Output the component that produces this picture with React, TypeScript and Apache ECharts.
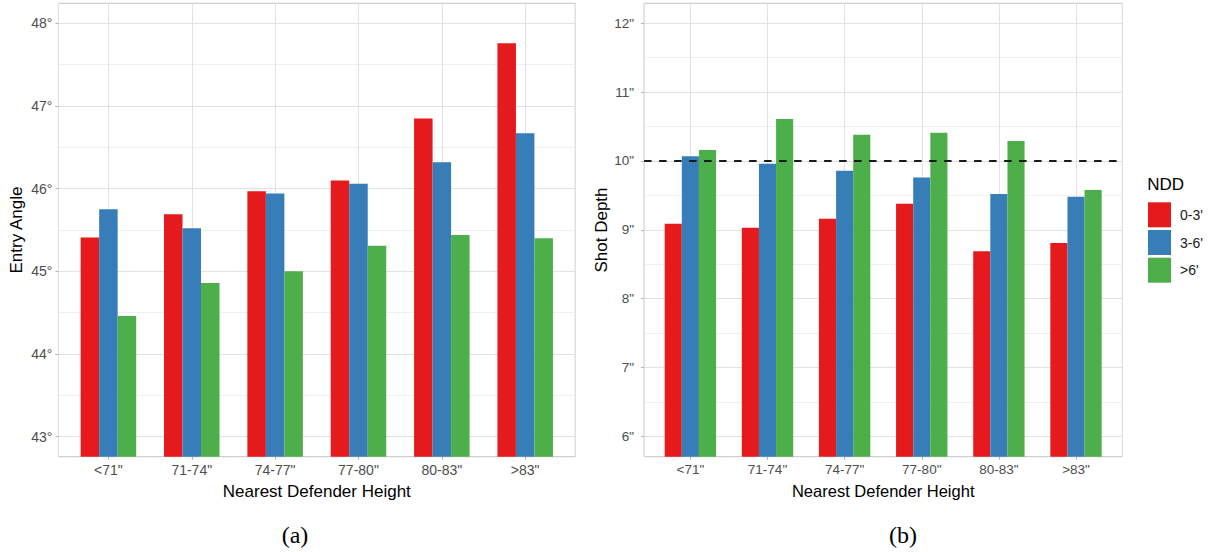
import React, { useEffect, useRef } from "react";
import * as echarts from "echarts";

const categories = ['<71"', '71-74"', '74-77"', '77-80"', '80-83"', '>83"'];
const seriesNames = ["0-3'", "3-6'", ">6'"];
const colors = ["#E41A1C", "#377EB8", "#4DAF4A"];

// Panel (a): Entry Angle (degrees)
const angleNdd03 = [45.41, 45.69, 45.97, 46.1, 46.85, 47.76];
const angleNdd36 = [45.75, 45.52, 45.94, 46.06, 46.32, 46.67];
const angleNdd6 = [44.46, 44.86, 45.0, 45.31, 45.44, 45.4];

// Panel (b): Shot Depth (inches)
const depthNdd03 = [9.09, 9.03, 9.16, 9.38, 8.69, 8.81];
const depthNdd36 = [10.07, 9.96, 9.86, 9.76, 9.52, 9.48];
const depthNdd6 = [10.16, 10.61, 10.38, 10.41, 10.29, 9.58];

const angleTicks = [43, 44, 45, 46, 47, 48];
const depthTicks = [6, 7, 8, 9, 10, 11, 12];
const depthReference = 10;

const FONT = "'Liberation Sans', Arial, sans-serif";
const TICK_COLOR = "#4d4d4d";
const MAJOR = "#e2e2e2";
const MINOR = "#f0f0f0";
const BORDER = "#c4c4c4";
const AXTICK = "#b3b3b3";

const isInt = (v: number) => Math.abs(v - Math.round(v)) < 1e-6;

export default function App() {
  const ref = useRef<HTMLDivElement>(null);

  useEffect(() => {
    if (!ref.current) return;
    const chart = echarts.init(ref.current, undefined, { renderer: "svg" });

    const TOP = 3.3;
    const H = 453.4;
    const aLeft = 58.4, aW = 516.8, aS = aW / 6.2;
    const bLeft = 644.1, bW = 478.2, bS = bW / 6.2;

    const bgX = (grid: number) => ({
      gridIndex: grid,
      type: "value",
      min: 0.4,
      max: 6.6,
      splitNumber: 6,
      axisLine: { show: false },
      axisTick: { show: false },
      axisLabel: { show: false },
      splitLine: { show: true, lineStyle: { color: MAJOR, width: 1 } },
    });

    const catX = (grid: number, fs: number, titleFs: number) => ({
      gridIndex: grid,
      type: "category",
      data: categories,
      axisLine: { show: false },
      axisTick: { show: true, alignWithLabel: true, length: 3, lineStyle: { color: AXTICK } },
      axisLabel: { fontSize: fs, color: TICK_COLOR, margin: 6, fontFamily: FONT },
      splitLine: { show: false },
      name: "Nearest Defender Height",
      nameLocation: "middle",
      nameGap: 26,
      nameTextStyle: { fontSize: titleFs, color: "#000", fontFamily: FONT },
    });

    const bgY = (
      grid: number,
      min: number,
      max: number,
      ticks: number[],
      unit: string,
      name: string,
      margin: number,
      nameGap: number,
      fs: number,
      titleFs: number
    ) => ({
      gridIndex: grid,
      type: "value",
      min,
      max,
      splitNumber: 5,
      axisLine: { show: false },
      axisTick: { show: true, length: 3, lineStyle: { color: AXTICK }, customValues: ticks },
      axisLabel: {
        customValues: ticks,
        fontSize: fs,
        color: TICK_COLOR,
        margin,
        fontFamily: FONT,
        formatter: (v: number) => (isInt(v) ? `${Math.round(v)}${unit}` : ""),
      },
      splitLine: { show: true, lineStyle: { color: MAJOR, width: 1 } },
      minorTick: { show: false, splitNumber: 2 },
      minorSplitLine: { show: true, lineStyle: { color: MINOR, width: 1 } },
      name,
      nameLocation: "middle",
      nameRotate: 90,
      nameGap,
      nameTextStyle: { fontSize: titleFs, color: "#000", fontFamily: FONT },
    });

    const hiddenY = (grid: number, min: number, max: number) => ({
      gridIndex: grid,
      type: "value",
      min,
      max,
      show: false,
    });

    const aMin = 42.758, aMax = 48.242;
    const bMin = 5.704, bMax = 12.291;

    const barSeries = (xi: number, yi: number, arrs: number[][]) =>
      arrs.map((d, i) => ({
        type: "bar",
        name: seriesNames[i],
        xAxisIndex: xi,
        yAxisIndex: yi,
        data: d,
        barGap: "0%",
        barCategoryGap: "33.4%",
        itemStyle: { color: colors[i] },
      }));

    chart.setOption({
      animation: false,
      textStyle: { fontFamily: FONT },
      grid: [
        { left: aLeft, top: TOP, width: aW, height: H, show: true, borderColor: BORDER, borderWidth: 1, backgroundColor: "#fff" },
        { left: aLeft + 0.1 * aS, top: TOP, width: 6 * aS, height: H },
        { left: bLeft, top: TOP, width: bW, height: H, show: true, borderColor: BORDER, borderWidth: 1, backgroundColor: "#fff" },
        { left: bLeft + 0.1 * bS, top: TOP, width: 6 * bS, height: H },
      ],
      xAxis: [bgX(0), catX(1, 14, 17), bgX(2), catX(3, 13.5, 16.5)],
      yAxis: [
        bgY(0, aMin, aMax, angleTicks, "°", "Entry Angle", 6, 33, 14, 17),
        hiddenY(1, aMin, aMax),
        bgY(2, bMin, bMax, depthTicks, '"', "Shot Depth", 10, 31, 13.5, 17),
        hiddenY(3, bMin, bMax),
      ],
      legend: {
        orient: "vertical",
        left: 1148,
        top: 202.3,
        padding: 0,
        itemWidth: 23,
        itemHeight: 25,
        itemGap: 2.7,
        icon: "rect",
        selectedMode: false,
        data: seriesNames,
        textStyle: { fontSize: 14, color: "#1a1a1a", fontFamily: FONT, padding: [0, 0, 0, 4] },
      },
      graphic: [
        {
          type: "text",
          left: 1147.3,
          top: 176,
          style: { text: "NDD", fontSize: 17, fill: "#000", fontFamily: FONT },
        },
        {
          type: "text",
          x: 295,
          y: 535,
          style: { text: "(a)", fontSize: 24, fill: "#000", fontFamily: "'Liberation Serif', 'Times New Roman', serif", align: "center", verticalAlign: "middle" },
        },
        {
          type: "text",
          x: 903,
          y: 535,
          style: { text: "(b)", fontSize: 24, fill: "#000", fontFamily: "'Liberation Serif', 'Times New Roman', serif", align: "center", verticalAlign: "middle" },
        },
      ],
      series: [
        ...barSeries(1, 1, [angleNdd03, angleNdd36, angleNdd6]),
        ...barSeries(3, 3, [depthNdd03, depthNdd36, depthNdd6]),
        {
          type: "line",
          xAxisIndex: 2,
          yAxisIndex: 2,
          data: [],
          silent: true,
          markLine: {
            silent: true,
            symbol: "none",
            label: { show: false },
            lineStyle: { type: [7.5, 7.5], color: "#1a1a1a", width: 2 },
            data: [{ yAxis: depthReference }],
            z: 10,
          },
        },
      ],
    });

    return () => chart.dispose();
  }, []);

  return (
    <div
      ref={ref}
      style={{ position: "fixed", left: 0, top: 0, width: 1208, height: 552, background: "#fff" }}
    />
  );
}
